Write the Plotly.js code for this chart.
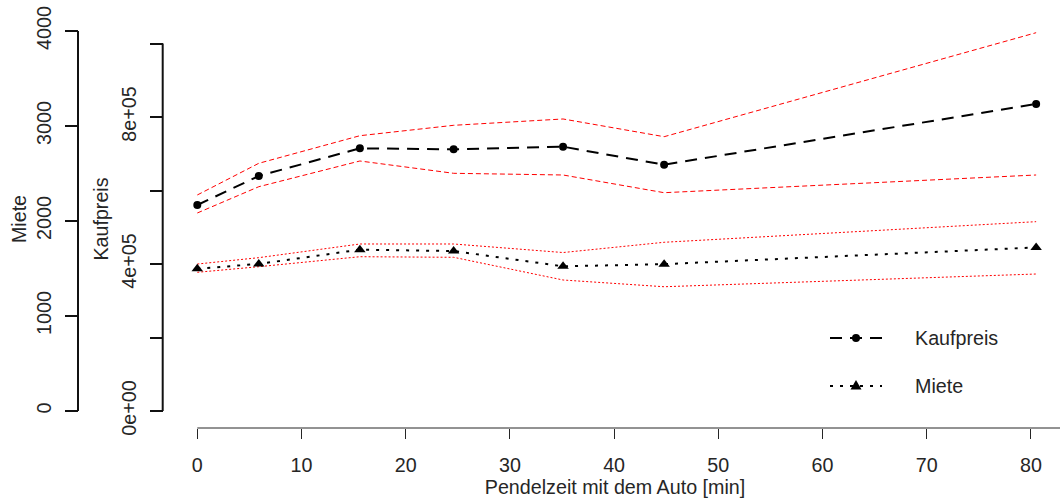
<!DOCTYPE html>
<html>
<head>
<meta charset="utf-8">
<script src="https://cdn.plot.ly/plotly-3.0.1.min.js"></script>
<style>
  html, body { margin: 0; padding: 0; background: #fff; }
  #chart { width: 1060px; height: 499px; }
</style>
</head>
<body>
<div id="chart"></div>
<script>
// Mittlere Pendelzeit je Klasse [min]
const pendelzeit = [0, 5.9, 15.6, 24.6, 35.1, 44.8, 80.5];

// Kaufpreis mit Konfidenzband
const kaufpreis      = [560500, 639500, 714800, 712100, 719200, 670200, 835400];
const kaufpreisOben  = [587800, 674000, 749100, 777400, 794600, 746400, 1029400];
const kaufpreisUnten = [538800, 610300, 680300, 646800, 642200, 594000, 642200];

// Miete mit Konfidenzband
const miete      = [1498, 1548, 1698, 1684, 1523, 1546, 1722];
const mieteOben  = [1547, 1614, 1758, 1758, 1668, 1776, 1993];
const mieteUnten = [1460, 1519, 1624, 1618, 1379, 1308, 1442];

// Achsenbeschriftungen
const xTicks = [0, 10, 20, 30, 40, 50, 60, 70, 80];
const mieteTicks = [0, 1000, 2000, 3000, 4000];
const kaufpreisTicks = [0, 200000, 400000, 600000, 800000, 1000000];
const kaufpreisTickText = ['0e+00', '', '4e+05', '', '8e+05', ''];

// Legende
const legendNames = ['Kaufpreis', 'Miete'];

const font = 'Liberation Sans, Arial, sans-serif';
const textColor = '#262626';
const fs = 19.7;
const W = 1060, H = 499, T = 10, B = 71;
const plotH = H - T - B;
const px = v => v / W;                  // Pixel -> Papier (x)
const py = v => (H - B - v) / plotH;    // Pixel -> Papier (y)

const xRange = [-2.62, 82.79];
const mieteRange = [-178.9, 4221.1];
const kaufpreisRange = [-46259, 1091156];

const kDash = '12px,8px';
const mDash = '3px,7px';

const traces = [
  { x: pendelzeit, y: kaufpreisOben, yaxis: 'y2', mode: 'lines', hoverinfo: 'skip',
    line: { color: 'red', width: 1, dash: '5px,3px' } },
  { x: pendelzeit, y: kaufpreisUnten, yaxis: 'y2', mode: 'lines', hoverinfo: 'skip',
    line: { color: 'red', width: 1, dash: '5px,3px' } },
  { x: pendelzeit, y: mieteOben, yaxis: 'y', mode: 'lines', hoverinfo: 'skip',
    line: { color: 'red', width: 1, dash: '2px,2px' } },
  { x: pendelzeit, y: mieteUnten, yaxis: 'y', mode: 'lines', hoverinfo: 'skip',
    line: { color: 'red', width: 1, dash: '2px,2px' } },
  { x: pendelzeit, y: kaufpreis, yaxis: 'y2', name: legendNames[0],
    mode: 'lines+markers', cliponaxis: false,
    line: { color: 'black', width: 2, dash: kDash },
    marker: { symbol: 'circle', size: 8, color: 'black' } },
  { x: pendelzeit, y: miete, yaxis: 'y', name: legendNames[1],
    mode: 'lines+markers', cliponaxis: false,
    line: { color: 'black', width: 2, dash: mDash },
    marker: { symbol: 'triangle-up', size: 10, color: 'black' } }
];

// Legendenschlüssel: Linie mit Symbol in der Mitte, Text rechts daneben
const keyX0 = 830, keyX1 = 882, keyXm = 856, textX = 913;
const rowK = 338, rowM = 386;

const shapes = [
  // Achsenlinien zwischen erstem und letztem Tick
  { type: 'line', xref: 'paper', yref: 'y', x0: px(78), x1: px(78),
    y0: mieteTicks[0], y1: mieteTicks[mieteTicks.length - 1], line: { color: '#111', width: 2 } },
  { type: 'line', xref: 'paper', yref: 'y2', x0: px(162.7), x1: px(162.7),
    y0: kaufpreisTicks[0], y1: kaufpreisTicks[kaufpreisTicks.length - 1], line: { color: '#111', width: 2 } },
  { type: 'line', xref: 'x', yref: 'paper', x0: xTicks[0], x1: xRange[1],
    y0: 0, y1: 0, line: { color: textColor, width: 1 } },
  // Legende
  { type: 'line', xref: 'paper', yref: 'paper', x0: px(keyX0), x1: px(keyX1), y0: py(rowK), y1: py(rowK),
    line: { color: 'black', width: 2, dash: kDash } },
  { type: 'circle', xref: 'paper', yref: 'paper', x0: px(keyXm - 4), x1: px(keyXm + 4),
    y0: py(rowK + 4), y1: py(rowK - 4), fillcolor: 'black', line: { width: 0 } },
  { type: 'line', xref: 'paper', yref: 'paper', x0: px(keyX0), x1: px(keyX1), y0: py(rowM), y1: py(rowM),
    line: { color: 'black', width: 2, dash: mDash } },
  { type: 'path', xref: 'paper', yref: 'paper', fillcolor: 'black', line: { width: 0 },
    path: 'M' + px(keyXm - 5.5) + ',' + py(rowM + 3.5) + ' L' + px(keyXm + 5.5) + ',' + py(rowM + 3.5) +
          ' L' + px(keyXm) + ',' + py(rowM - 6) + ' Z' }
];

const annotations = legendNames.map((name, i) => ({
  text: name, xref: 'paper', yref: 'paper', x: px(textX), y: py(i === 0 ? rowK : rowM),
  xanchor: 'left', yanchor: 'middle', showarrow: false,
  font: { family: font, size: fs, color: textColor }
}));

const layout = {
  width: W, height: H,
  margin: { l: 0, r: 0, t: T, b: B },
  paper_bgcolor: '#fff', plot_bgcolor: '#fff',
  font: { family: font, size: fs, color: textColor },
  showlegend: false,
  xaxis: {
    domain: [px(170), 1], range: xRange, anchor: 'y',
    tickmode: 'array', tickvals: xTicks, ticktext: xTicks.map(String),
    ticks: 'outside', ticklen: 10, tickwidth: 1, tickcolor: textColor,
    ticklabelstandoff: 9,
    showline: false, showgrid: false, zeroline: false,
    tickfont: { family: font, size: fs, color: textColor },
    title: { text: 'Pendelzeit mit dem Auto [min]', standoff: 5,
             font: { family: font, size: fs, color: textColor } }
  },
  yaxis: {
    anchor: 'free', position: px(78), side: 'left', range: mieteRange,
    tickmode: 'array', tickvals: mieteTicks, ticktext: mieteTicks.map(String),
    ticks: 'outside', ticklen: 13, tickwidth: 2, tickcolor: '#111', tickangle: -90,
    ticklabelstandoff: 6,
    showline: false, showgrid: false, zeroline: false,
    tickfont: { family: font, size: fs, color: textColor },
    title: { text: 'Miete', standoff: 0, font: { family: font, size: fs, color: textColor } }
  },
  yaxis2: {
    overlaying: 'y', anchor: 'free', position: px(162.7), side: 'left', range: kaufpreisRange,
    tickmode: 'array', tickvals: kaufpreisTicks, ticktext: kaufpreisTickText,
    ticks: 'outside', ticklen: 13, tickwidth: 2, tickcolor: '#111', tickangle: -90,
    ticklabelstandoff: 6,
    showline: false, showgrid: false, zeroline: false,
    tickfont: { family: font, size: fs, color: textColor },
    title: { text: 'Kaufpreis', standoff: 2, font: { family: font, size: fs, color: textColor } }
  },
  shapes: shapes,
  annotations: annotations
};

Plotly.newPlot('chart', traces, layout, { displayModeBar: false, staticPlot: true });
</script>
</body>
</html>
